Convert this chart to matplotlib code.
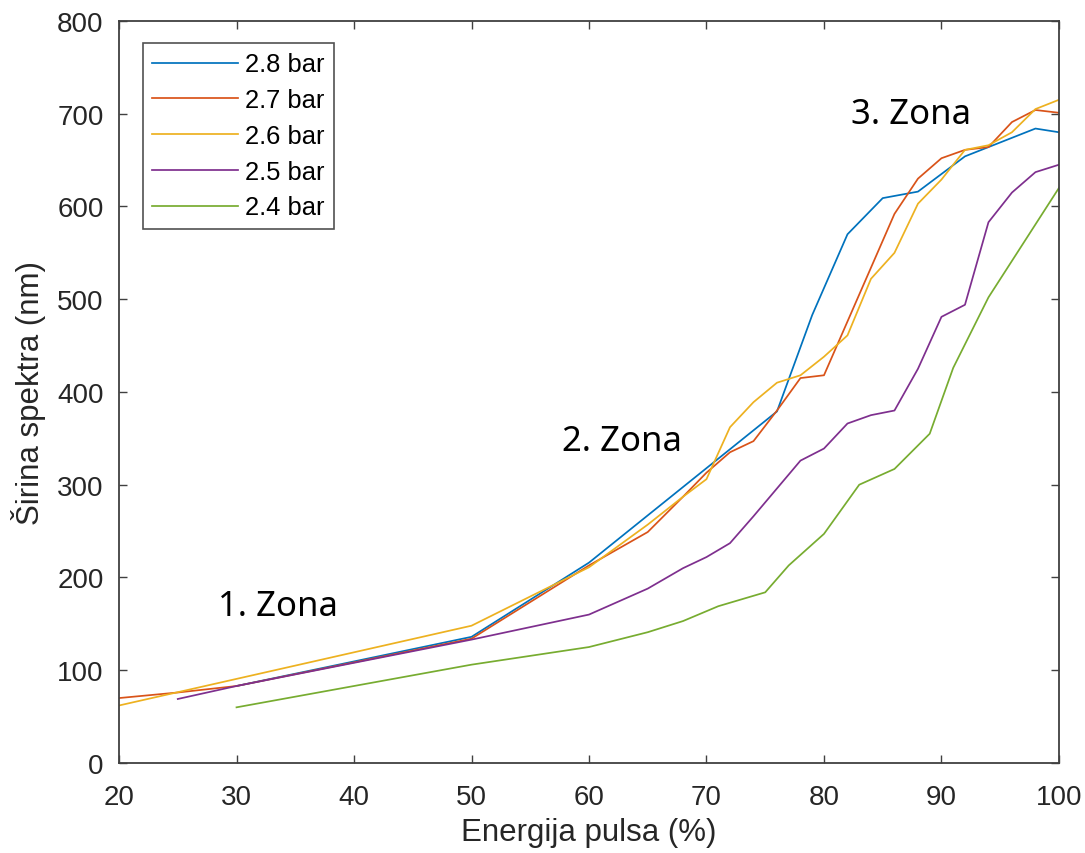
import matplotlib
matplotlib.use("Agg")
import matplotlib.pyplot as plt

# Data
x_28 = [30, 50, 60, 76, 79, 82, 85, 88, 92, 98, 100]
y_28 = [83, 136, 216, 379, 483, 570, 609, 616, 654, 684, 680]

x_27 = [20, 25, 30, 50, 60, 65, 68, 70, 72, 74, 76, 78, 80, 82, 84, 86, 88, 90, 92, 94, 96, 98, 100]
y_27 = [70, 76, 83, 134, 213, 249, 287, 313, 335, 347, 380, 415, 418, 476, 534, 592, 630, 652, 661, 664, 691, 704, 701]

x_26 = [20, 50, 60, 65, 68, 70, 72, 74, 76, 78, 80, 82, 84, 86, 88, 90, 92, 94, 96, 98, 100]
y_26 = [62, 148, 211, 257, 287, 306, 362, 389, 410, 418, 438, 461, 522, 550, 603, 629, 661, 666, 680, 705, 715]

x_25 = [25, 30, 50, 60, 65, 68, 70, 72, 74, 76, 78, 80, 82, 84, 86, 88, 90, 92, 94, 96, 98, 100]
y_25 = [69, 83, 133, 160, 188, 210, 222, 237, 266, 296, 326, 339, 366, 375, 380, 425, 481, 494, 583, 615, 637, 645]

x_24 = [30, 50, 60, 65, 68, 71, 75, 77, 80, 83, 86, 89, 91, 94, 100]
y_24 = [60, 106, 125, 141, 153, 169, 184, 213, 247, 300, 317, 355, 426, 502, 620]

series = [
    ("2.8 bar", x_28, y_28, "#0072BD"),
    ("2.7 bar", x_27, y_27, "#D95319"),
    ("2.6 bar", x_26, y_26, "#EDB120"),
    ("2.5 bar", x_25, y_25, "#7E2F8E"),
    ("2.4 bar", x_24, y_24, "#77AC30"),
]

zone_labels = ["1. Zona", "2. Zona", "3. Zona"]
zone_pos = [(28.4, 169), (57.7, 347), (82.3, 700)]

x_ticks = [20, 30, 40, 50, 60, 70, 80, 90, 100]
y_ticks = [0, 100, 200, 300, 400, 500, 600, 700, 800]

plt.rcParams['font.family'] = ['Liberation Sans', 'DejaVu Sans']

fig = plt.figure(figsize=(10.85, 8.54), dpi=100)
ax = fig.add_axes([0.1097, 0.1054, 0.8663, 0.8689])

for label, xs, ys, c in series:
    ax.plot(xs, ys, color=c, lw=1.25, label=label)

ax.set_xlim(20, 100)
ax.set_ylim(0, 800)
ax.set_xticks(x_ticks)
ax.set_yticks(y_ticks)

txt_c = "#262626"
for s in ax.spines.values():
    s.set_color("#404040")
    s.set_linewidth(1.3)
ax.tick_params(direction='in', top=True, right=True, length=6, width=1.0,
               color="#404040", labelsize=20, labelcolor=txt_c)
ax.tick_params(axis='x', pad=15)
ax.tick_params(axis='y', pad=11)

ax.set_xlabel("Energija pulsa (%)", fontsize=22.5, color=txt_c, labelpad=5)
ax.set_ylabel("Širina spektra (nm)", fontsize=22.5, color=txt_c, labelpad=8)

for t, (px, py) in zip(zone_labels, zone_pos):
    ax.text(px, py, t, fontsize=25, family=['Noto Sans', 'DejaVu Sans'],
            color='black', ha='left', va='center')

leg = ax.legend(loc='upper left', bbox_to_anchor=(0.0252, 0.9706), fontsize=18.4,
                frameon=True, fancybox=False, edgecolor="#262626",
                handlelength=3.35, handletextpad=0.27, labelspacing=0.46,
                borderpad=0.38, borderaxespad=0.0)
leg.get_frame().set_linewidth(1.2)

fig.savefig("out.png", dpi=100)
